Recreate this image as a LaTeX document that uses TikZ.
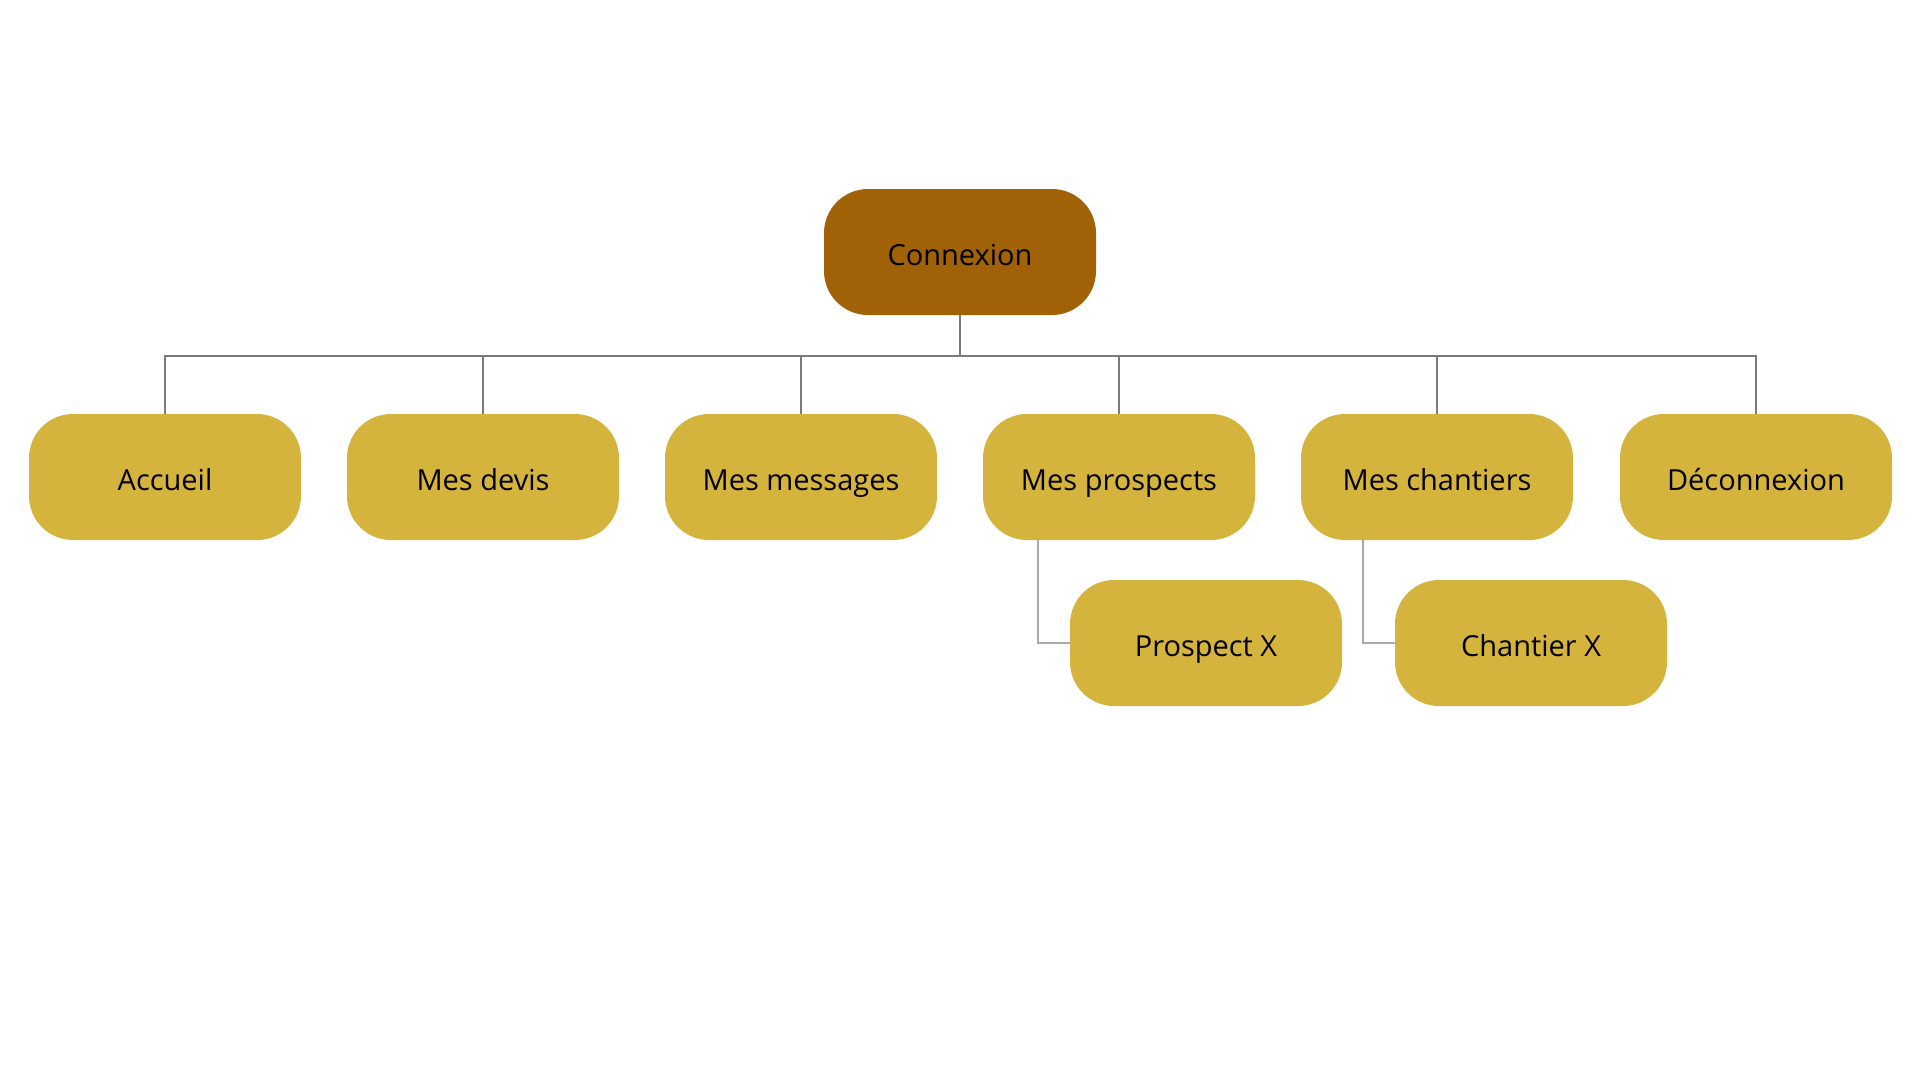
\documentclass[tikz,border=0pt]{standalone}
\usepackage{fontspec}
\setmainfont{Open Sans}
\definecolor{rootfill}{HTML}{A16207}
\definecolor{itemfill}{HTML}{D5B43E}
\definecolor{busline}{HTML}{7A7A7A}
\definecolor{subline}{HTML}{ABABAB}
\begin{document}
\begin{tikzpicture}[x=1pt,y=-1pt,
  box/.style={rounded corners=44pt, minimum width=272pt, minimum height=126pt,
    inner sep=0pt, text=black, text height=30pt, text depth=4pt,
    font=\fontsize{29}{35}\selectfont},
  rootbox/.style={box, fill=rootfill},
  itembox/.style={box, fill=itemfill},
  bus/.style={draw=busline, line width=1.4pt},
  sub/.style={draw=subline, line width=1.6pt}]
\useasboundingbox (0,0) rectangle (1920,1080);
% root
\node[rootbox] (root) at (960,252) {Connexion};
% first level
\node[itembox] (acc) at (165,477) {Accueil};
\node[itembox] (dev) at (483,477) {Mes devis};
\node[itembox] (msg) at (801,477) {Mes messages};
\node[itembox] (pro) at (1119,477) {Mes prospects};
\node[itembox] (cha) at (1437,477) {Mes chantiers};
\node[itembox] (dec) at (1756,477) {Déconnexion};
% second level
\node[itembox] (prox) at (1206,643) {Prospect X};
\node[itembox] (chax) at (1531,643) {Chantier X};
% bus from the root to each first-level item
\coordinate (busy) at (0,356);
\foreach \n in {acc,dev,msg,pro,cha,dec}
  \draw[bus] (root.south) |- (\n.north |- busy) -- (\n.north);
% branches to the detail pages
\draw[sub] ([xshift=55pt]pro.south west) |- (prox.west);
\draw[sub] ([xshift=62pt]cha.south west) |- (chax.west);
\end{tikzpicture}
\end{document}
